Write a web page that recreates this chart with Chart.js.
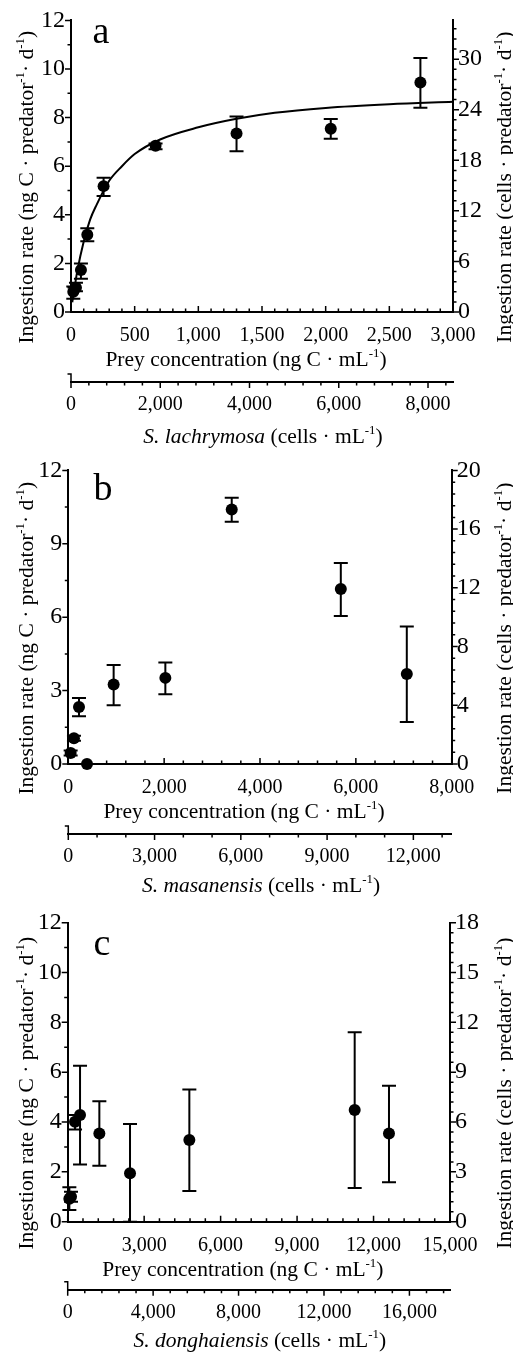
<!DOCTYPE html>
<html lang="en">
<head>
<meta charset="UTF-8">
<title>Ingestion rate vs prey concentration</title>
<script src="https://cdn.jsdelivr.net/npm/chart.js"></script>
<style>
  body { margin: 0; background: #fff; }
  canvas { display: block; }
</style>
</head>
<body>
<canvas id="chart-a" width="513" height="450"></canvas>
<canvas id="chart-b" width="513" height="450"></canvas>
<canvas id="chart-c" width="513" height="452"></canvas>
<script>
const SERIF = '"Liberation Serif", "Times New Roman", Times, serif';

// panel a - S. lachrymosa (prey in ng C/mL, rate in ng C/predator/d)
const preyA = [18, 39, 78, 128, 256, 664, 1300, 2040, 2744];
const rateA = [0.83, 1.0, 1.73, 3.18, 5.18, 6.84, 7.35, 7.54, 9.44];
const lowA  = [0.55, 0.85, 1.37, 2.91, 4.77, 6.70, 6.62, 7.13, 8.41];
const highA = [1.05, 1.2, 2.0, 3.45, 5.52, 6.93, 8.05, 7.94, 10.45];
// fitted curve
const fitPreyA = [10, 50, 100, 150, 200, 300, 400, 500, 700, 1000, 1300, 1600, 2000, 2500, 3000];
const fitRateA = [0.4, 1.7, 2.9, 3.8, 4.4, 5.4, 6.0, 6.5, 7.1, 7.6, 7.95, 8.2, 8.4, 8.55, 8.65];

// panel b - S. masanensis
const preyB = [49, 118, 223, 390, 946, 2025, 3410, 5686, 7063];
const rateB = [0.45, 1.05, 2.33, 0, 3.25, 3.52, 10.4, 7.15, 3.68];
const lowB  = [0.35, 0.95, 1.95, 0, 2.4, 2.85, 9.9, 6.05, 1.72];
const highB = [0.55, 1.15, 2.7, 0, 4.05, 4.15, 10.88, 8.22, 5.62];

// panel c - S. donghaiensis
const preyC = [65, 130, 288, 484, 1242, 2445, 4773, 11260, 12606];
const rateC = [0.92, 1.0, 4.01, 4.28, 3.54, 1.94, 3.28, 4.48, 3.54];
const lowC  = [0.47, 0.8, 3.70, 2.30, 2.25, 0, 1.23, 1.35, 1.58];
const highC = [1.38, 1.2, 4.28, 6.26, 4.83, 3.92, 5.31, 7.60, 5.46];

// axis ranges / tick steps
const panels = [
  {
    id: 'chart-a', letter: 'a', species: 'S. lachrymosa',
    prey: preyA, rate: rateA, low: lowA, high: highA, fitX: fitPreyA, fitY: fitRateA,
    x:  { max: 3000, major: 500, minor: 100 },
    x2: { max: 8560, major: 2000, minor: 400 },
    y:  { max: 12, major: 2, minor: 1 },
    y2: { max: 34.6, major: 6, minor: 1.2 },
    top: 14, left: 71, right: 60, xH: 70, x2H: 50, bottom: 18,
    letterAt: [101, 43], secTitleDy: 124
  },
  {
    id: 'chart-b', letter: 'b', species: 'S. masanensis',
    prey: preyB, rate: rateB, low: lowB, high: highB,
    x:  { max: 8000, major: 2000, minor: 400 },
    x2: { max: 13333, major: 3000, minor: 1000 },
    y:  { max: 12, major: 3, minor: 1.5 },
    y2: { max: 20, major: 4, minor: 0.8 },
    top: 15.7, left: 68.3, right: 61.3, xH: 70, x2H: 50, bottom: 16,
    letterAt: [103, 50], secTitleDy: 120.5
  },
  {
    id: 'chart-c', letter: 'c', species: 'S. donghaiensis',
    prey: preyC, rate: rateC, low: lowC, high: highC,
    x:  { max: 15000, major: 3000, minor: 600 },
    x2: { max: 17900, major: 4000, minor: 800 },
    y:  { max: 12, major: 2, minor: 1 },
    y2: { max: 18, major: 3, minor: 0.6 },
    top: 22.7, left: 67.7, right: 63, xH: 68, x2H: 50, bottom: 12.3,
    letterAt: [102, 55], secTitleDy: 118
  }
];

Chart.defaults.font.family = SERIF;
Chart.defaults.color = '#000';

function isMult(v, step) {
  const r = v / step;
  return Math.abs(r - Math.round(r)) < 1e-6;
}

function axisOpts(ax, size, padding) {
  return {
    type: 'linear', min: 0, max: ax.max,
    grid: { display: false, drawTicks: false },
    border: { display: true, color: '#000', width: 2 },
    // one tick per minor step, labels only on the major ones
    afterBuildTicks: sc => {
      const ticks = [];
      const n = Math.floor(ax.max / ax.minor + 1e-6);
      for (let i = 0; i <= n; i++) {
        ticks.push({ value: Math.round(i * ax.minor * 1000) / 1000 });
      }
      sc.ticks = ticks;
    },
    ticks: {
      autoSkip: false, maxRotation: 0, minRotation: 0, padding: padding,
      color: '#000', font: { family: SERIF, size: size },
      callback: v => isMult(v, ax.major) ? Number(v).toLocaleString('en-US') : ''
    }
  };
}

// text with superscripts / italics, centred on (cx, cy) and rotated
function drawRich(ctx, parts, cx, cy, size, angle) {
  ctx.save();
  ctx.translate(cx, cy);
  ctx.rotate(angle);
  ctx.textAlign = 'left';
  ctx.textBaseline = 'alphabetic';
  ctx.fillStyle = '#000';
  const fontOf = p => (p.it ? 'italic ' : '') + (p.sup ? size * 0.6 : size) + 'px ' + SERIF;
  let total = 0;
  parts.forEach(p => { ctx.font = fontOf(p); total += ctx.measureText(p.t).width; });
  let x = -total / 2;
  const base = size * 0.33;
  parts.forEach(p => {
    ctx.font = fontOf(p);
    ctx.fillText(p.t, x, p.sup ? base - size * 0.4 : base);
    x += ctx.measureText(p.t).width;
  });
  ctx.restore();
}

function drawTickMarks(ctx, scale, ax, side) {
  ctx.save();
  ctx.strokeStyle = '#000';
  ctx.lineWidth = 1.5;
  ctx.beginPath();
  scale.ticks.forEach(t => {
    if (!isMult(t.value, ax.minor)) return;
    const len = isMult(t.value, ax.major) ? 6 : 3.5;
    const p = scale.getPixelForValue(t.value);
    if (side === 'left') { ctx.moveTo(scale.right, p); ctx.lineTo(scale.right - len, p); }
    if (side === 'right') { ctx.moveTo(scale.left, p); ctx.lineTo(scale.left + len, p); }
    if (side === 'up') { ctx.moveTo(p, scale.top); ctx.lineTo(p, scale.top - len); }
    if (side === 'down') { ctx.moveTo(p, scale.top); ctx.lineTo(p, scale.top + len); }
  });
  ctx.stroke();
  ctx.restore();
}

function makePanel(p) {
  const decor = {
    id: 'decor-' + p.id,
    beforeDatasetsDraw(chart) {
      // error bars
      const ctx = chart.ctx, xs = chart.scales.x, ys = chart.scales.y;
      ctx.save();
      ctx.strokeStyle = '#000';
      ctx.lineWidth = 2;
      ctx.beginPath();
      p.prey.forEach((xv, i) => {
        if (p.high[i] - p.low[i] < 0.01) return;
        const px = xs.getPixelForValue(xv);
        const lo = ys.getPixelForValue(p.low[i]);
        const hi = ys.getPixelForValue(p.high[i]);
        ctx.moveTo(px, lo); ctx.lineTo(px, hi);
        ctx.moveTo(px - 7, lo); ctx.lineTo(px + 7, lo);
        ctx.moveTo(px - 7, hi); ctx.lineTo(px + 7, hi);
      });
      ctx.stroke();
      ctx.restore();
    },
    afterDraw(chart) {
      const ctx = chart.ctx, s = chart.scales, a = chart.chartArea;
      drawTickMarks(ctx, s.y, p.y, 'left');
      drawTickMarks(ctx, s.y2, p.y2, 'right');
      drawTickMarks(ctx, s.x, p.x, 'up');
      drawTickMarks(ctx, s.x2, p.x2, 'down');

      // little break mark at the start of the cell-count axis
      const x0 = s.x2.getPixelForValue(0), y0 = s.x2.top;
      ctx.save();
      ctx.strokeStyle = '#000';
      ctx.lineWidth = 1.5;
      ctx.beginPath();
      ctx.moveTo(x0, y0); ctx.lineTo(x0, y0 - 8); ctx.lineTo(x0 - 3.5, y0 - 8);
      ctx.stroke();
      ctx.restore();

      const midY = (a.top + a.bottom) / 2 + 21;
      const midX = (a.left + a.right) / 2;
      const sup = { t: '-1', sup: true };
      drawRich(ctx, [{ t: 'Ingestion rate (ng C · predator' }, sup, { t: '· d' }, sup, { t: ')' }],
        26, midY, 21.5, -Math.PI / 2);
      drawRich(ctx, [{ t: 'Ingestion rate (cells · predator' }, sup, { t: '· d' }, sup, { t: ')' }],
        504, midY, 21.5, -Math.PI / 2);
      drawRich(ctx, [{ t: 'Prey concentration (ng C · mL' }, sup, { t: ')' }],
        midX - 16, a.bottom + 47, 21.5, 0);
      drawRich(ctx, [{ t: p.species, it: true }, { t: ' (cells · mL' }, sup, { t: ')' }],
        midX + 1, a.bottom + p.secTitleDy, 21.5, 0);

      ctx.save();
      ctx.fillStyle = '#000';
      ctx.font = '38px ' + SERIF;
      ctx.textAlign = 'center';
      ctx.textBaseline = 'alphabetic';
      ctx.fillText(p.letter, p.letterAt[0], p.letterAt[1]);
      ctx.restore();
    }
  };

  const datasets = [{
    type: 'scatter',
    data: p.prey.map((x, i) => ({ x: x, y: p.rate[i] })),
    pointRadius: 6, pointHoverRadius: 6,
    backgroundColor: '#000', borderColor: '#000', borderWidth: 0,
    clip: false, order: 0
  }];
  if (p.fitX) {
    datasets.push({
      type: 'line',
      data: p.fitX.map((x, i) => ({ x: x, y: p.fitY[i] })),
      borderColor: '#000', borderWidth: 2, pointRadius: 0,
      cubicInterpolationMode: 'monotone', fill: false, order: 1
    });
  }

  const x = axisOpts(p.x, 20, 12);
  x.position = 'bottom'; x.weight = 0;
  x.afterFit = sc => { sc.height = p.xH; };
  const x2 = axisOpts(p.x2, 20, 11);
  x2.position = 'bottom'; x2.weight = 1;
  x2.afterFit = sc => { sc.height = p.x2H; };
  const y = axisOpts(p.y, 24, 6);
  y.position = 'left';
  y.afterFit = sc => { sc.width = p.left; };
  const y2 = axisOpts(p.y2, 24, 5);
  y2.position = 'right';
  y2.afterFit = sc => { sc.width = p.right; };

  return new Chart(document.getElementById(p.id), {
    type: 'scatter',
    data: { datasets: datasets },
    options: {
      responsive: false,
      animation: false,
      layout: { padding: { top: p.top, bottom: p.bottom, left: 0, right: 0 } },
      plugins: { legend: { display: false }, tooltip: { enabled: false } },
      scales: { x: x, x2: x2, y: y, y2: y2 }
    },
    plugins: [decor]
  });
}

panels.forEach(makePanel);
</script>
</body>
</html>
